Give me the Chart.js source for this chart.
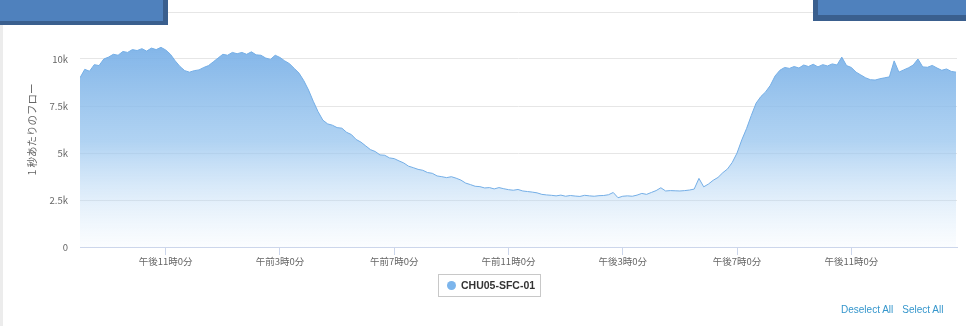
<!DOCTYPE html>
<html>
<head>
<meta charset="utf-8">
<script src="https://cdn.jsdelivr.net/npm/chart.js@4"></script>
<style>
    body { margin: 0; background: #fff; overflow: hidden; }
    #wrap { position: relative; width: 966px; height: 326px; }
    #chartBox { position: absolute; left: 0; top: 0; width: 966px; height: 326px; }
    .strip { position: absolute; left: 0; top: 25px; width: 3px; height: 301px; background: #ececec; }
    .boxLeft { position: absolute; left: -10px; top: -10px; width: 173px; height: 31px; background: #4f81bd; border-right: 5px solid #3a5f8e; border-bottom: 4px solid #3a5f8e; }
    .boxRight { position: absolute; left: 813px; top: -10px; width: 160px; height: 25px; background: #4f81bd; border-left: 5px solid #3a5f8e; border-bottom: 6px solid #3a5f8e; }
    #legend { position: absolute; left: 438px; top: 274px; width: 101px; height: 21px; border: 1px solid #c8c8c8; box-sizing: content-box;
        font: bold 10.5px "Liberation Sans", Arial, sans-serif; color: #333; line-height: 21px; }
    #legend .dot { position: absolute; left: 8px; top: 6px; width: 9px; height: 9px; border-radius: 50%; background: #7cb5ec; }
    #legend .name { position: absolute; left: 22px; top: 0; }
    #links { position: absolute; left: 841px; top: 304px; font: 10px "Liberation Sans", Arial, sans-serif; color: #3596cc; }
    #links span { margin-right: 9px; }
</style>
</head>
<body>
<div id="wrap">
    <div id="chartBox"><canvas id="flowChart"></canvas></div>
    <div class="strip"></div>
    <div class="boxLeft"></div>
    <div class="boxRight"></div>
    <div id="legend"><div class="dot"></div><div class="name" id="legendName"></div></div>
    <div id="links"><span>Deselect All</span><span>Select All</span></div>
</div>
<script>
// 10分ごとのフロー (午後8時開始)
const startHour = 20;
const stepMinutes = 10;
const seriesName = 'CHU05-SFC-01';
const yTitle = '1 秒あたりのフロー';

const flow = [
    9000, 9450, 9350, 9700, 9650, 10000, 10100, 10250, 10200, 10400,
    10350, 10500, 10450, 10550, 10420, 10580, 10500, 10620, 10480, 10250,
    9900, 9600, 9380, 9300, 9380, 9420, 9550, 9650, 9850, 10050,
    10250, 10200, 10350, 10280, 10350, 10250, 10380, 10220, 10200, 10050,
    9980, 10200, 10080, 9900, 9750, 9500, 9250, 8850, 8350, 7750,
    7200, 6750, 6550, 6480, 6350, 6320, 6100, 5980, 5720, 5580,
    5380, 5180, 5080, 4900, 4880, 4740, 4700, 4580, 4470, 4300,
    4220, 4130, 4080, 3960, 3920, 3780, 3740, 3690, 3740, 3660,
    3560, 3400, 3320, 3230, 3210, 3140, 3160, 3090, 3160, 3100,
    3050, 3020, 3060, 2980, 2950, 2920, 2880, 2800, 2770, 2750,
    2720, 2760, 2700, 2740, 2710, 2690, 2750, 2720, 2700, 2730,
    2740, 2780, 2900, 2620, 2700, 2720, 2700, 2760, 2850, 2800,
    2900, 3000, 3150, 2980, 3000, 2990, 2980, 3000, 3030, 3080,
    3650, 3200, 3350, 3550, 3700, 3950, 4150, 4500, 5000, 5700,
    6300, 7000, 7650, 8000, 8250, 8600, 9100, 9400, 9550, 9500,
    9600, 9520, 9680, 9600, 9720, 9580, 9700, 9630, 9740, 9680,
    10100, 9650, 9550, 9300, 9150, 9000, 8900, 8880, 8950, 9000,
    9050, 9900, 9300, 9420, 9530, 9680, 10000, 9580, 9560, 9660,
    9520, 9400, 9470, 9340, 9300
];

const xTickHours = [23, 27, 31, 35, 39, 43, 47];
const xTickLabels = ['午後11時0分', '午前3時0分', '午前7時0分', '午前11時0分', '午後3時0分', '午後7時0分', '午後11時0分'];
const yTickValues = [0, 2500, 5000, 7500, 10000, 12500];

document.getElementById('legendName').textContent = seriesName;

const points = flow.map((v, i) => ({ x: startHour + i * stepMinutes / 60, y: v }));
const tickFont = { family: "'Noto Sans CJK JP', 'Noto Sans', sans-serif", size: 9.5 };

function areaGradient(context) {
    const area = context.chart.chartArea;
    if (!area) return 'rgba(124, 181, 236, 0.6)';
    const g = context.chart.ctx.createLinearGradient(0, area.top, 0, area.bottom);
    g.addColorStop(0, 'rgba(110, 168, 228, 1)');
    g.addColorStop(0.55, 'rgba(150, 196, 238, 0.75)');
    g.addColorStop(1, 'rgba(200, 225, 248, 0.08)');
    return g;
}

new Chart(document.getElementById('flowChart'), {
    type: 'line',
    data: {
        datasets: [{
            label: seriesName,
            data: points,
            borderColor: '#74aee6',
            borderWidth: 1,
            backgroundColor: areaGradient,
            fill: 'origin',
            pointRadius: 0,
            tension: 0
        }]
    },
    options: {
        responsive: true,
        maintainAspectRatio: false,
        animation: false,
        layout: { padding: { left: 0, right: 9, top: 12, bottom: 0 } },
        plugins: {
            legend: { display: false },
            tooltip: { enabled: false }
        },
        scales: {
            x: {
                type: 'linear',
                min: startHour,
                max: 50.7,
                afterBuildTicks: scale => { scale.ticks = xTickHours.map(v => ({ value: v })); },
                afterFit: scale => { scale.height = 79; },
                ticks: {
                    color: '#666',
                    font: tickFont,
                    padding: 1,
                    maxRotation: 0,
                    autoSkip: false,
                    callback: (value, index) => xTickLabels[index]
                },
                grid: {
                    drawOnChartArea: false,
                    drawTicks: true,
                    tickLength: 8,
                    color: '#ccd6eb'
                },
                border: { color: '#ccd6eb' }
            },
            y: {
                min: 0,
                max: 12500,
                afterBuildTicks: scale => { scale.ticks = yTickValues.map(v => ({ value: v })); },
                afterFit: scale => {
                    scale.width = 80;
                    scale.paddingTop = 0;
                    scale.paddingBottom = 0;
                },
                ticks: {
                    color: '#666',
                    font: tickFont,
                    padding: 12,
                    callback: value => value === 0 ? '0' : (value / 1000) + 'k'
                },
                grid: { color: '#e6e6e6', drawTicks: false },
                border: { display: false },
                title: {
                    display: true,
                    text: yTitle,
                    color: '#666',
                    font: { family: "'Noto Sans CJK JP', sans-serif", size: 10.5 },
                    padding: { top: 26, bottom: 0 }
                }
            }
        }
    }
});
</script>
</body>
</html>
